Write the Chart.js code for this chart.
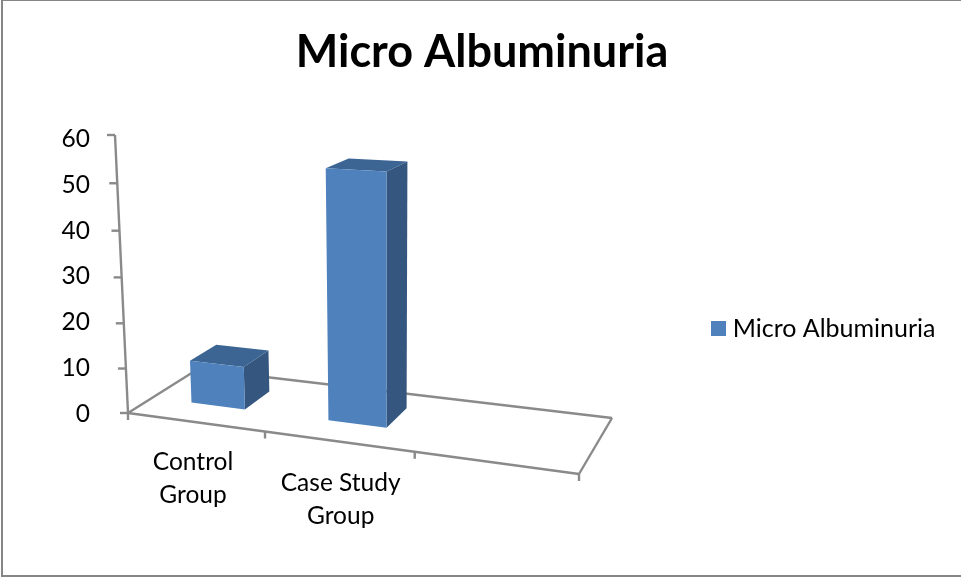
<!DOCTYPE html>
<html>
<head>
<meta charset="utf-8">
<style>
  html, body { margin: 0; padding: 0; background: #fff; }
  #wrap { position: relative; width: 961px; height: 577px; overflow: hidden; }
  #frame { position: absolute; left: 1px; top: 0; width: 970px; height: 574px; border: 2px solid #868686; border-top-width: 1px; pointer-events: none; }
  canvas { position: absolute; left: 0; top: 0; }
</style>
<script src="https://cdn.jsdelivr.net/npm/chart.js@4/dist/chart.umd.min.js"></script>
</head>
<body>
<div id="wrap">
  <canvas id="myChart" width="961" height="577"></canvas>
  <div id="frame"></div>
</div>
<script>
const categories = [['Control', 'Group'], ['Case Study', 'Group'], '']
const microAlbuminuria = [9.6, 53.5, null]
const seriesName = 'Micro Albuminuria'
const yMax = 60
const yStep = 10

const FRONT = '#4F81BD'
const TOP = '#3D6594'
const SIDE = '#34567F'
const AXIS = '#8A8A8A'
const FONT = 'Lato, Carlito, sans-serif'

// floor corners on screen: front left, front right, back right, back left
const floorQuad = [[128, 413], [579, 474], [612, 418], [198, 369]]
// where the vertical edges meet, and where the top of the y axis lands
const vanish = [388, 5973]
const axisTopY = 135
// bar front and back, as a share of the floor depth
const depthFront = 0.33
const depthBack = 0.72

const makeCamera = () => {
    const [[x0, y0], [x1, y1], [x2, y2], [x3, y3]] = floorQuad
    const dx1 = x1 - x2, dx2 = x3 - x2, sx = x0 - x1 + x2 - x3
    const dy1 = y1 - y2, dy2 = y3 - y2, sy = y0 - y1 + y2 - y3
    const den = dx1 * dy2 - dx2 * dy1
    const g = (sx * dy2 - dx2 * sy) / den
    const h = (dx1 * sy - sx * dy1) / den
    const l = (y0 - axisTopY) / (axisTopY - vanish[1])
    return [
        [x1 - x0 + g * x1, x3 - x0 + h * x3, l * vanish[0], x0],
        [y1 - y0 + g * y1, y3 - y0 + h * y3, l * vanish[1], y0],
        [g, h, l, 1]
    ]
}
const camera = makeCamera()

// u along the category axis, v into the depth, t up the value axis, all 0..1
const project = (u, v, t) => {
    const row = m => m[0] * u + m[1] * v + m[2] * t + m[3]
    const w = row(camera[2])
    return [row(camera[0]) / w, row(camera[1]) / w]
}

const shape = (ctx, points, fill) => {
    ctx.beginPath()
    points.forEach((p, i) => i ? ctx.lineTo(p[0], p[1]) : ctx.moveTo(p[0], p[1]))
    ctx.closePath()
    ctx.fillStyle = fill
    ctx.fill()
}

const line = (ctx, a, b) => {
    ctx.beginPath()
    ctx.moveTo(a[0], a[1])
    ctx.lineTo(b[0], b[1])
    ctx.stroke()
}

const perspectivePlugin = {
    id: 'perspective',
    beforeDraw(chart) {
        // legend sits at a fixed spot, box on the left and text flush right
        const legend = chart.legend
        legend.left = 711 - 8
        legend.right = 935.5
        legend.width = legend.right - legend.left
        legend.top = 308
        legend.bottom = 352
        legend.height = legend.bottom - legend.top
    },
    beforeDatasetsDraw(chart) {
        const { ctx, scales: { x, y } } = chart
        ctx.save()
        ctx.strokeStyle = AXIS
        ctx.lineWidth = 2.4
        // floor outline
        const quad = [project(0, 0, 0), project(1, 0, 0), project(1, 1, 0), project(0, 1, 0)]
        quad.forEach((p, i) => line(ctx, p, quad[(i + 1) % 4]))
        // value axis with its ticks
        line(ctx, project(0, 0, 0), project(0, 0, 1))
        y.ticks.forEach(tick => {
            const t = (y.bottom - y.getPixelForValue(tick.value)) / y.height
            const p = project(0, 0, t)
            line(ctx, p, [p[0] - 8, p[1]])
        })
        // category ticks along the front edge
        for (let i = 0; i <= categories.length; i++) {
            const p = project(i / categories.length, 0, 0)
            line(ctx, p, [p[0], p[1] + 7])
        }
        // category labels
        ctx.fillStyle = '#000'
        ctx.font = '24.5px ' + FONT
        ctx.textAlign = 'center'
        ctx.textBaseline = 'middle'
        categories.forEach((label, i) => {
            const u = (x.getPixelForValue(i) - x.left) / x.width
            const p = project(u, 0, 0)
            ;[].concat(label).forEach((text, j) => {
                ctx.fillText(text, p[0] - 4.25 + 13.5 * u, p[1] + 39 + 6 * u + j * 33)
            })
        })
        ctx.restore()
    },
    beforeDatasetDraw(chart, args) {
        const { ctx, scales: { x, y } } = chart
        args.meta.data.forEach((bar, i) => {
            if (microAlbuminuria[i] === null) return
            const u0 = (bar.x - bar.width / 2 - x.left) / x.width
            const u1 = (bar.x + bar.width / 2 - x.left) / x.width
            const t = (y.bottom - bar.y) / y.height
            const [v0, v1] = [depthFront, depthBack]
            shape(ctx, [project(u0, v0, t), project(u1, v0, t), project(u1, v1, t), project(u0, v1, t)], TOP)
            shape(ctx, [project(u1, v0, 0), project(u1, v1, 0), project(u1, v1, t), project(u1, v0, t)], SIDE)
            shape(ctx, [project(u0, v0, 0), project(u1, v0, 0), project(u1, v0, t), project(u0, v0, t)], FRONT)
        })
        return false
    }
}

new Chart(document.getElementById('myChart'), {
    type: 'bar',
    data: {
        labels: categories,
        datasets: [{
            label: seriesName,
            data: microAlbuminuria,
            backgroundColor: FRONT,
            borderWidth: 0,
            categoryPercentage: 1,
            barPercentage: 0.4
        }]
    },
    plugins: [perspectivePlugin],
    options: {
        responsive: false,
        animation: false,
        layout: { padding: { left: 3, right: 0, top: 0, bottom: 0 } },
        plugins: {
            tooltip: { enabled: false },
            title: {
                display: true,
                text: seriesName,
                color: '#000',
                font: { family: FONT, size: 45, weight: 'bold' },
                padding: { top: 25, bottom: 60 }
            },
            legend: {
                position: 'right',
                align: 'start',
                labels: {
                    color: '#000',
                    font: { family: FONT, size: 25 },
                    boxWidth: 15,
                    boxHeight: 15,
                    padding: 8,
                    textAlign: 'right'
                }
            }
        },
        scales: {
            x: {
                grid: { display: false },
                border: { display: false },
                ticks: { display: false },
                afterFit: scale => { scale.height = 577 - 414 }
            },
            y: {
                min: 0,
                max: yMax,
                grid: { display: false },
                border: { display: false },
                ticks: { stepSize: yStep, color: '#000', font: { family: FONT, size: 24.5 }, padding: 30 },
                afterFit: scale => { scale.width = 125 }
            }
        }
    }
})
</script>
</body>
</html>
